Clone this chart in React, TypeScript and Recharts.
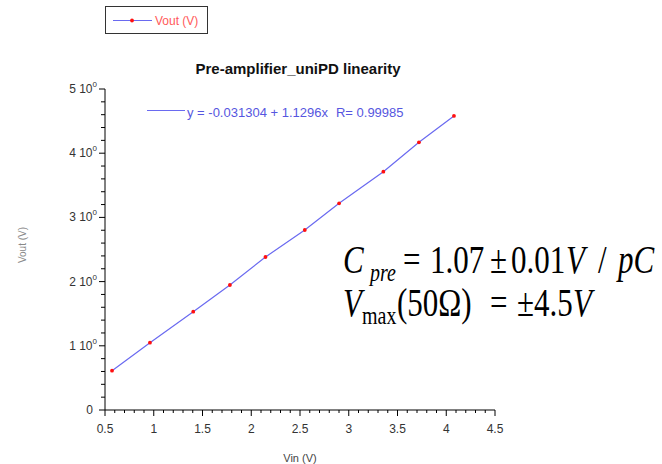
import { LineChart, Line, XAxis, YAxis } from "recharts";

// measured points (Vin, Vout)
const vin = [0.572, 0.961, 1.405, 1.781, 2.146, 2.549, 2.901, 3.355, 3.72, 4.079];
const vout = [0.612, 1.048, 1.531, 1.947, 2.383, 2.804, 3.22, 3.712, 4.17, 4.58];

const xMajorTicks = [0.5, 1, 1.5, 2, 2.5, 3, 3.5, 4, 4.5];
const xTickLabels = ["0.5", "1", "1.5", "2", "2.5", "3", "3.5", "4", "4.5"];
const yMajorTicks = [0, 1, 2, 3, 4, 5];
const yTickLabels = ["0", "1 10", "2 10", "3 10", "4 10", "5 10"];

const data = vin.map((v, i) => ({ vin: v, vout: vout[i] }));

// minor ticks: 0.1 on x, 0.2 on y
const xTicks: number[] = [];
for (let i = 0; i <= 40; i++) xTicks.push(Math.round((0.5 + i * 0.1) * 10) / 10);
const yTicks: number[] = [];
for (let i = 0; i <= 25; i++) yTicks.push(Math.round(i * 0.2 * 10) / 10);

const sans = "'Liberation Sans', Arial, sans-serif";
const serif = "'Liberation Serif', 'Times New Roman', serif";
const tickColor = "#333";

const XTick = (props: any) => {
  const { x, y, payload } = props;
  const idx = xMajorTicks.findIndex((t) => Math.abs(t - payload.value) < 1e-6);
  const major = idx >= 0;
  return (
    <g>
      <line x1={x} x2={x} y1={y} y2={y + (major ? 6 : 3)} stroke="#000" />
      {major && (
        <text x={x} y={y + 23} textAnchor="middle" fontSize={12} fontFamily={sans} fill={tickColor}>
          {xTickLabels[idx]}
        </text>
      )}
    </g>
  );
};

const YTick = (props: any) => {
  const { x, y, payload } = props;
  const idx = yMajorTicks.findIndex((t) => Math.abs(t - payload.value) < 1e-6);
  const major = idx >= 0;
  return (
    <g>
      <line x1={x} x2={x - (major ? 6 : 4)} y1={y} y2={y} stroke="#000" />
      {major &&
        (idx === 0 ? (
          <text x={x - 12} y={y + 4} textAnchor="end" fontSize={12} fontFamily={sans} fill={tickColor}>
            0
          </text>
        ) : (
          <text x={x - 8} y={y + 4} textAnchor="end" fontSize={12} fontFamily={sans} fill={tickColor}>
            <tspan>{yTickLabels[idx]}</tspan>
            <tspan dy={-6} fontSize={8}>0</tspan>
          </text>
        ))}
    </g>
  );
};

const RedDot = (props: any) => {
  const { cx, cy } = props;
  return <circle cx={cx} cy={cy} r={1.9} fill="#ff1010" />;
};

export default function App() {
  return (
    <div style={{ position: "absolute", left: 0, top: 0, width: 662, height: 464, background: "#fff" }}>
      <LineChart
        width={662}
        height={464}
        data={data}
        margin={{ top: 89, right: 167, bottom: 24, left: 45 }}
      >
        <XAxis
          dataKey="vin"
          type="number"
          domain={[0.5, 4.5]}
          ticks={xTicks}
          interval={0}
          tickSize={0}
          tickMargin={0}
          tick={<XTick />}
          axisLine={{ stroke: "#000" }}
          height={30}
        />
        <YAxis
          type="number"
          domain={[0, 5]}
          ticks={yTicks}
          interval={0}
          tickSize={0}
          tickMargin={0}
          tick={<YTick />}
          axisLine={{ stroke: "#000" }}
          width={60}
        />
        <Line
          dataKey="vout"
          stroke="#6a6af0"
          strokeWidth={1.2}
          dot={<RedDot />}
          activeDot={false}
          isAnimationActive={false}
        />
      </LineChart>
      <svg width={662} height={464} style={{ position: "absolute", left: 0, top: 0, pointerEvents: "none" }}>
        {/* legend box */}
        <rect x={105.5} y={6.5} width={102} height={27} fill="none" stroke="#333" />
        <line x1={113} x2={152} y1={20.5} y2={20.5} stroke="#6a6af0" strokeWidth={1.2} />
        <circle cx={132} cy={20.5} r={1.9} fill="#ff1010" />
        <text x={155} y={25} fontSize={12} fontFamily={sans} fill="#ff5a5a">Vout (V)</text>
        {/* title */}
        <text x={298} y={74} textAnchor="middle" fontSize={15} fontWeight="bold" fontFamily={sans} fill="#111">
          Pre-amplifier_uniPD linearity
        </text>
        {/* fit legend */}
        <line x1={147} x2={185} y1={110.5} y2={110.5} stroke="#6a6af0" strokeWidth={1.2} />
        <text x={187} y={117} fontSize={13} fontFamily={sans} fill="#5656e0">
          <tspan>y = -0.031304 + 1.1296x</tspan>
          <tspan dx={8}>R= 0.99985</tspan>
        </text>
        {/* axis labels */}
        <text x={300} y={462} textAnchor="middle" fontSize={11} fontFamily={sans} fill="#444">Vin (V)</text>
        <text transform="translate(26,245) rotate(-90)" textAnchor="middle" fontSize={10} fontFamily={sans} fill="#888">
          Vout (V)
        </text>
        {/* annotation */}
        <g fontFamily={serif} fill="#000" fontSize={31}>
          <g transform="translate(0,273) scale(1,1.3)">
            <text y={0}>
              <tspan x={343} fontStyle="italic">C</tspan>
              <tspan x={370} dy={6} fontSize={20} fontStyle="italic">pre</tspan>
              <tspan x={403} dy={-6}>=</tspan>
              <tspan x={430}>1.07</tspan>
              <tspan x={490}>±</tspan>
              <tspan x={511}>0.01</tspan>
              <tspan x={566} fontStyle="italic">V</tspan>
              <tspan x={598}>/</tspan>
              <tspan x={618} fontStyle="italic">pC</tspan>
            </text>
          </g>
          <g transform="translate(0,316) scale(1,1.3)">
            <text y={0}>
              <tspan x={343} fontStyle="italic">V</tspan>
              <tspan x={362} dy={6} fontSize={20}>max</tspan>
              <tspan x={397} dy={-6}>(50Ω)</tspan>
              <tspan x={490}>=</tspan>
              <tspan x={517}>±4.5</tspan>
              <tspan x={573} fontStyle="italic">V</tspan>
            </text>
          </g>
        </g>
      </svg>
    </div>
  );
}
